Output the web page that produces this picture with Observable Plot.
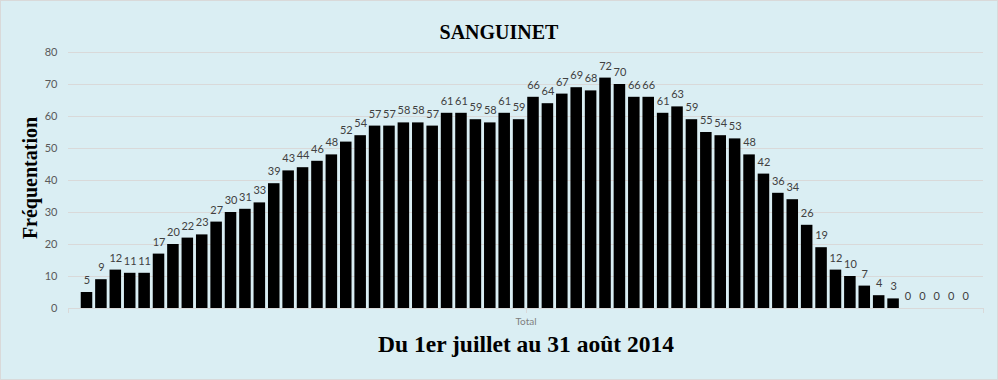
<!DOCTYPE html>
<html>
<head>
<meta charset="utf-8">
<script src="https://cdn.jsdelivr.net/npm/d3@7"></script>
<script src="https://cdn.jsdelivr.net/npm/@observablehq/plot@0.6"></script>
<style>
  html, body { margin: 0; padding: 0; background: #ffffff; }
  #chart {
    position: relative; width: 998px; height: 380px;
    background: #DAEEF3;
    outline: 1px solid #d9d9d9; outline-offset: -1px;
    overflow: hidden;
  }
  #chart svg { position: absolute; left: 0; top: 0; }
</style>
</head>
<body>
<div id="chart"></div>
<script>
// ---- data ----
const title = "SANGUINET";
const yTitle = "Fréquentation";
const xTitle = "Du 1er juillet au 31 août 2014";
const category = "Total";
const days = d3.range(1, 63); // 1 July .. 31 August (62 days)
const values = [5, 9, 12, 11, 11, 17, 20, 22, 23, 27, 30, 31, 33, 39, 43, 44, 46, 48, 52, 54,
  57, 57, 58, 58, 57, 61, 61, 59, 58, 61, 59, 66, 64, 67, 69, 68, 72, 70, 66, 66,
  61, 63, 59, 55, 54, 53, 48, 42, 36, 34, 26, 19, 12, 10, 7, 4, 3, 0, 0, 0, 0, 0];
const yTicks = [0, 10, 20, 30, 40, 50, 60, 70, 80];

const data = days.map((d, i) => ({day: d, value: values[i]}));

const serif = "'Liberation Serif', 'Times New Roman', serif";
const sans = "Lato, 'Open Sans', sans-serif";

const chart = Plot.plot({
  width: 998,
  height: 380,
  marginLeft: 68,
  marginRight: 15,
  marginTop: 52,
  marginBottom: 72,
  style: {background: "transparent", fontFamily: sans, fontSize: "11px", color: "#595959", overflow: "visible"},
  x: {type: "band", domain: days, range: [79.3, 972.3], paddingInner: 0.2, paddingOuter: 0.1, round: false, axis: null},
  y: {domain: [0, 80], axis: null},
  marks: [
    Plot.gridY(yTicks, {stroke: "#d9d9d9", strokeOpacity: 1}),
    Plot.axisY(yTicks, {tickSize: 0, tickPadding: 11, label: null, fill: "#595959", fontSize: 11}),
    Plot.ruleY([0], {stroke: "#d9d9d9", strokeWidth: 1}),
    Plot.barY(data, {x: "day", y: "value", fill: "#000000"}),
    Plot.text(data, {x: "day", y: "value", text: "value", dy: -12, fill: "#404040", fontSize: 11}),
    Plot.text([category], {frameAnchor: "bottom", dy: 16, fill: "#7f7f7f", fontSize: 10}),
    Plot.text([title], {frameAnchor: "top", dx: -27, dy: -28, fontFamily: serif, fontWeight: "bold", fontSize: 20, fill: "#000"}),
    Plot.text([xTitle], {frameAnchor: "bottom", dy: 43, fontFamily: serif, fontWeight: "bold", fontSize: 23.5, fill: "#000"}),
    Plot.text([yTitle], {frameAnchor: "left", textAnchor: "middle", dx: -38, dy: -2.5, rotate: -90, fontFamily: serif, fontWeight: "bold", fontSize: 20, fill: "#000"})
  ]
});

// small category tick marks under the horizontal axis (edges and centre of the category band)
const svg = d3.select(chart);
const x0 = 68, x1 = 998 - 15, yb = 380 - 72;
[x0, (x0 + x1) / 2, x1].forEach(x => {
  svg.append("line")
    .attr("x1", Math.round(x) + 0.5).attr("x2", Math.round(x) + 0.5)
    .attr("y1", yb).attr("y2", yb + 5)
    .attr("stroke", "#d9d9d9");
});

document.getElementById("chart").appendChild(chart);
</script>
</body>
</html>
